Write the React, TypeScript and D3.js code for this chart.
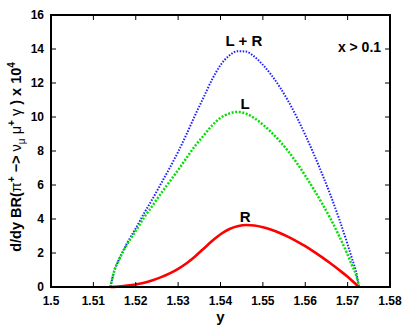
import React from 'react';
import * as d3 from 'd3';

// photon energy variable y
const yGrid = [1.514, 1.515, 1.516, 1.518, 1.52, 1.522, 1.524, 1.526, 1.528, 1.53, 1.532, 1.534, 1.536, 1.538, 1.54, 1.542, 1.544, 1.546, 1.548, 1.55, 1.552, 1.554, 1.556, 1.558, 1.56, 1.562, 1.564, 1.566, 1.568, 1.57, 1.571, 1.572, 1.5727];

// L + R (blue dotted)
const totalValues = [0, 1.0, 1.6, 2.6, 3.45, 4.35, 5.2, 6.1, 7.0, 7.95, 9.0, 10.1, 11.15, 12.2, 13.05, 13.6, 13.87, 13.85, 13.55, 13.07, 12.47, 11.76, 10.93, 9.99, 8.95, 7.83, 6.64, 5.38, 4.0, 2.5, 1.7, 0.88, 0];

// L (green dotted)
const leftValues = [0, 1.0, 1.57, 2.52, 3.3, 4.1, 4.8, 5.52, 6.2, 6.88, 7.6, 8.3, 8.9, 9.5, 9.95, 10.2, 10.3, 10.2, 9.93, 9.55, 9.1, 8.58, 7.98, 7.3, 6.55, 5.75, 4.9, 4.0, 3.0, 1.9, 1.3, 0.7, 0];

// R (red solid)
const rightValues = [0, 0.01, 0.03, 0.08, 0.15, 0.25, 0.4, 0.58, 0.8, 1.07, 1.4, 1.8, 2.25, 2.7, 3.1, 3.4, 3.57, 3.65, 3.62, 3.52, 3.37, 3.18, 2.95, 2.69, 2.4, 2.08, 1.74, 1.38, 1.0, 0.6, 0.38, 0.15, 0];

const xTicks = [1.5, 1.51, 1.52, 1.53, 1.54, 1.55, 1.56, 1.57, 1.58];
const yTicks = [0, 2, 4, 6, 8, 10, 12, 14, 16];

const width = 409;
const height = 327;
const margin = { left: 51, right: 19, top: 15, bottom: 40 };
const font = '"Liberation Sans", Arial, sans-serif';

export default function App() {
  const x = d3.scaleLinear().domain([1.5, 1.58]).range([margin.left, width - margin.right]);
  const y = d3.scaleLinear().domain([0, 16]).range([height - margin.bottom, margin.top]);

  const line = (vals: number[]) =>
    d3.line<number>()
      .x((_, i) => x(yGrid[i]))
      .y(d => y(d))
      .curve(d3.curveMonotoneX)(vals) || '';

  const x0 = margin.left;
  const x1 = width - margin.right;
  const y0 = height - margin.bottom;
  const y1 = margin.top;
  const tickLen = 5;

  return (
    <svg width={width} height={height} style={{ position: 'absolute', left: 0, top: 0, background: 'white' }}>
      {/* curves */}
      <path d={line(totalValues)} fill="none" stroke="#2020ff" strokeWidth={2} strokeDasharray="1.5,1.5" />
      <path d={line(leftValues)} fill="none" stroke="#00e000" strokeWidth={2.5} strokeDasharray="2,1.6" />
      <path d={line(rightValues)} fill="none" stroke="#ff0000" strokeWidth={2.6} />

      {/* ticks */}
      {xTicks.map(t => (
        <g key={'x' + t}>
          <line x1={x(t)} x2={x(t)} y1={y0} y2={y0 - tickLen} stroke="black" strokeWidth={1} />
          <line x1={x(t)} x2={x(t)} y1={y1} y2={y1 + tickLen} stroke="black" strokeWidth={1} />
          <text x={x(t)} y={y0 + 18} textAnchor="middle" fontFamily={font} fontWeight="bold" fontSize={12}>
            {d3.format('.2~f')(t)}
          </text>
        </g>
      ))}
      {yTicks.map(t => (
        <g key={'y' + t}>
          <line x1={x0} x2={x0 + tickLen} y1={y(t)} y2={y(t)} stroke="black" strokeWidth={1} />
          <line x1={x1} x2={x1 - tickLen} y1={y(t)} y2={y(t)} stroke="black" strokeWidth={1} />
          <text x={x0 - 7} y={y(t) + 4.3} textAnchor="end" fontFamily={font} fontWeight="bold" fontSize={12}>
            {t}
          </text>
        </g>
      ))}

      {/* frame */}
      <rect x={x0} y={y1} width={x1 - x0} height={y0 - y1} fill="none" stroke="black" strokeWidth={2} />

      {/* curve labels */}
      <text x={x(1.5455)} y={y(14.15)} textAnchor="middle" fontFamily={font} fontWeight="bold" fontSize={15}>L + R</text>
      <text x={x(1.5458)} y={y(10.5)} textAnchor="middle" fontFamily={font} fontWeight="bold" fontSize={15}>L</text>
      <text x={x(1.5458)} y={y(3.85)} textAnchor="middle" fontFamily={font} fontWeight="bold" fontSize={15}>R</text>
      <text x={x(1.5728)} y={y(13.8)} textAnchor="middle" fontFamily={font} fontWeight="bold" fontSize={14}>x &gt; 0.1</text>

      {/* axis titles */}
      <text x={(x0 + x1) / 2} y={height - 5} textAnchor="middle" fontFamily={font} fontWeight="bold" fontSize={15}>y</text>
      <text transform={`translate(21, ${(y0 + y1) / 2 + 6}) rotate(-90)`} textAnchor="middle" fontFamily={font} fontWeight="bold" fontSize={14.5}>
        d/dy BR(<tspan fontWeight="normal">π</tspan>
        <tspan dy={-6} fontSize={10}>+</tspan>
        <tspan dy={6}> −&gt; </tspan>
        <tspan fontWeight="normal">ν</tspan>
        <tspan dy={4} fontSize={10} fontWeight="normal">μ</tspan>
        <tspan dy={-4}> </tspan>
        <tspan fontWeight="normal">μ</tspan>
        <tspan dy={-6} fontSize={10}>+</tspan>
        <tspan dy={6}> </tspan>
        <tspan fontWeight="normal">γ</tspan>
        <tspan> ) x 10</tspan>
        <tspan dy={-6} fontSize={10}>4</tspan>
      </text>
    </svg>
  );
}
